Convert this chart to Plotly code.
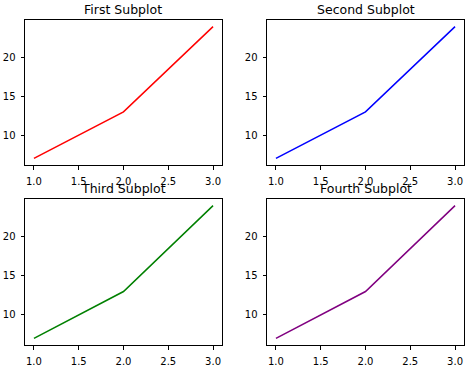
import plotly.graph_objects as go

x_vals = [1, 2, 3]
y_vals = [7, 13, 24]
titles = ["First Subplot", "Second Subplot", "Third Subplot", "Fourth Subplot"]
colors = ["red", "blue", "green", "purple"]

W, H = 474, 375
# pixel boxes in window coords: (left, right, top, bottom)
boxes = [(25, 222, 20, 165), (267, 464, 20, 165), (25, 222, 199, 345), (267, 464, 199, 345)]

fig = go.Figure()
annotations = []
font = dict(family="DejaVu Sans", size=10, color="black")
for i, (t, c, b) in enumerate(zip(titles, colors, boxes)):
    n = "" if i == 0 else str(i + 1)
    fig.add_trace(go.Scatter(x=x_vals, y=y_vals, mode="lines",
                             line=dict(color=c, width=1.5),
                             xaxis="x" + n, yaxis="y" + n, showlegend=False))
    l, r, tp, bt = b
    axcommon = dict(showline=True, mirror=True, linecolor="black", linewidth=1,
                    ticks="outside", ticklen=3.5, tickwidth=1, tickcolor="black",
                    showgrid=False, zeroline=False, tickfont=font, ticklabelstandoff=3)
    fig.update_layout(**{
        "xaxis" + n: dict(domain=[l / W, r / W], range=[0.9, 3.1],
                          tickvals=[1, 1.5, 2, 2.5, 3], ticktext=["1.0", "1.5", "2.0", "2.5", "3.0"],
                          anchor="y" + n, **axcommon),
        "yaxis" + n: dict(domain=[1 - bt / H, 1 - tp / H], range=[6.15, 24.85],
                          tickvals=[10, 15, 20], anchor="x" + n, **axcommon),
    })
    annotations.append(dict(text=t, x=(l + r) / 2 / W, y=1 - (tp - 1) / H,
                            xref="paper", yref="paper", xanchor="center", yanchor="bottom",
                            showarrow=False,
                            font=dict(family="DejaVu Sans", size=12.5, color="black")))

fig.update_layout(width=W, height=H, margin=dict(l=0, r=0, t=0, b=0),
                  paper_bgcolor="white", plot_bgcolor="white", annotations=annotations)
fig.write_html("out.html", config=dict(displayModeBar=False),
               post_script="document.body.style.margin='0';document.body.style.overflow='hidden';")
